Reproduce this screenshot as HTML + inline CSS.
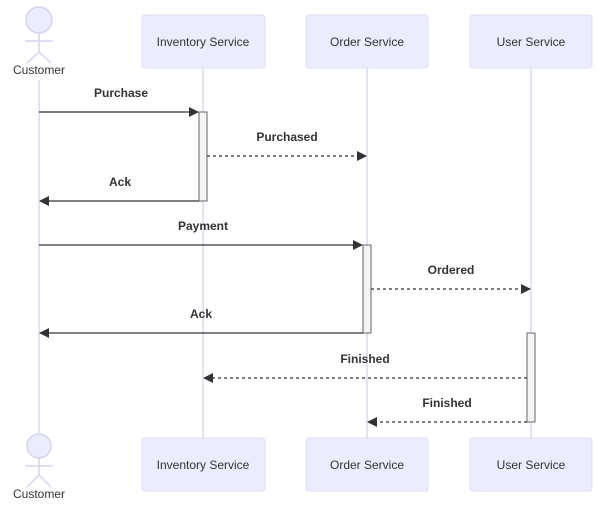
<!DOCTYPE html>
<html><head><meta charset="utf-8"><style>
html,body{margin:0;padding:0;background:#fff;}
svg text{font-family:"Liberation Sans",sans-serif;}
</style></head><body>
<svg width="606" height="505" viewBox="0 0 606 505" xmlns="http://www.w3.org/2000/svg">
<defs>
<marker id="ah" markerWidth="10" markerHeight="10" refX="9" refY="5" orient="auto" markerUnits="userSpaceOnUse">
<path d="M0,0 L10,5 L0,10 z" fill="#333"/>
</marker>
</defs>
<g stroke="#dcd8f0" stroke-width="1.5">
<line x1="39" y1="80" x2="39" y2="433"/>
<line x1="203" y1="68" x2="203" y2="438"/>
<line x1="367" y1="68" x2="367" y2="438"/>
<line x1="531" y1="68" x2="531" y2="438"/>
</g>
<g fill="#ececff" stroke="#dedcf5" stroke-width="1">
<rect x="142" y="15" width="123" height="53" rx="3"/>
<rect x="306" y="15" width="122" height="53" rx="3"/>
<rect x="470" y="15" width="122" height="53" rx="3"/>
<rect x="142" y="438" width="123" height="53" rx="3"/>
<rect x="306" y="438" width="122" height="53" rx="3"/>
<rect x="470" y="438" width="122" height="53" rx="3"/>
</g>
<g font-size="12" fill="#333" text-anchor="middle">
<text x="203" y="46">Inventory Service</text>
<text x="367" y="46">Order Service</text>
<text x="531" y="46">User Service</text>
<text x="203" y="469">Inventory Service</text>
<text x="367" y="469">Order Service</text>
<text x="531" y="469">User Service</text>
<text x="39" y="74">Customer</text>
<text x="39" y="498">Customer</text>
</g>
<g fill="#ececff" stroke="#d6d3ee" stroke-width="1.5">
<circle cx="39" cy="20" r="13"/>
<line x1="39" y1="33" x2="39" y2="52"/>
<line x1="25" y1="41" x2="53" y2="41"/>
<line x1="39" y1="52" x2="27" y2="63"/>
<line x1="39" y1="52" x2="51" y2="63"/>
<circle cx="39" cy="446" r="12"/>
<line x1="39" y1="458" x2="39" y2="475"/>
<line x1="25" y1="466" x2="53" y2="466"/>
<line x1="39" y1="475" x2="27" y2="487"/>
<line x1="39" y1="475" x2="51" y2="487"/>
</g>
<g fill="#f4f4f4" stroke="#666" stroke-width="1">
<rect x="199" y="112" width="8" height="89"/>
<rect x="363" y="245" width="8" height="88"/>
<rect x="527" y="333" width="8" height="89"/>
</g>
<g stroke="#333" stroke-width="1.3" fill="none">
<line x1="39" y1="112" x2="198" y2="112" marker-end="url(#ah)"/>
<line x1="207" y1="156" x2="366" y2="156" stroke-dasharray="3,3" marker-end="url(#ah)"/>
<line x1="199" y1="201" x2="40" y2="201" marker-end="url(#ah)"/>
<line x1="39" y1="245" x2="362" y2="245" marker-end="url(#ah)"/>
<line x1="371" y1="289" x2="530" y2="289" stroke-dasharray="3,3" marker-end="url(#ah)"/>
<line x1="363" y1="333" x2="40" y2="333" marker-end="url(#ah)"/>
<line x1="527" y1="378" x2="204" y2="378" stroke-dasharray="3,3" marker-end="url(#ah)"/>
<line x1="527" y1="422" x2="368" y2="422" stroke-dasharray="3,3" marker-end="url(#ah)"/>
</g>
<g font-size="12" font-weight="bold" fill="#333" text-anchor="middle">
<text x="121" y="97">Purchase</text>
<text x="287" y="141">Purchased</text>
<text x="120" y="186">Ack</text>
<text x="203" y="230">Payment</text>
<text x="451" y="274">Ordered</text>
<text x="201" y="318">Ack</text>
<text x="365" y="363">Finished</text>
<text x="447" y="407">Finished</text>
</g>
</svg>
</body></html>
